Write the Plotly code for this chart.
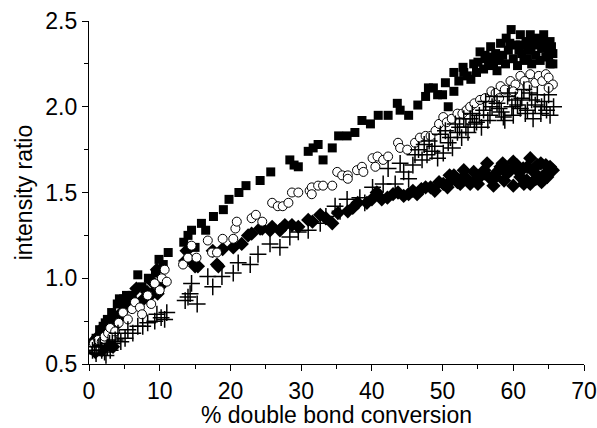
import plotly.graph_objects as go

# Filled squares
sq_x = [0.2, 0.5, 0.8, 1.0, 1.3, 1.5, 1.8, 2.0, 2.3, 2.6, 2.9, 3.2, 3.5, 4.0, 4.3, 4.9, 5.3, 6.1, 6.9, 7.5,
        8.4, 9.4, 9.9, 10.5, 11.2, 13.4, 14.0, 14.5, 15.0, 15.9, 16.5, 17.6, 19.0, 19.8, 21.2, 22.2, 24.2, 25.7,
        28.4, 29.0, 29.6, 31.0, 31.7, 32.4, 33.1, 34.4, 35.3, 36.5, 37.6, 38.6, 39.8, 40.9, 42.3, 43.6, 44.0,
        45.2, 46.5, 47.6, 48.0, 48.7, 49.3, 50.0, 50.4, 50.8, 51.6, 51.6, 52.3, 52.9, 53.5, 54.4, 54.8, 55.3,
        55.8, 56.2, 56.8, 57.2, 57.7, 58.2, 58.5, 58.9, 59.3, 59.7, 60.0, 60.3, 60.6, 61.0, 61.2, 61.5, 61.8,
        62.1, 62.4, 62.6, 62.9, 63.2, 63.5, 63.8, 64.0, 64.3, 64.6, 64.9, 65.2, 65.6, 65.6, 65.4, 55.0, 56.5,
        57.5, 59.0, 60.8, 62.0, 63.0, 64.5, 65.0, 53.0, 54.0, 56.0, 57.0, 58.0, 59.5, 61.0, 62.5, 63.8, 65.2,
        1.1, 1.6, 2.4, 2.8, 3.4]
sq_y = [0.60, 0.62, 0.58, 0.65, 0.63, 0.70, 0.68, 0.72, 0.74, 0.76, 0.75, 0.80, 0.78, 0.85, 0.88, 0.88, 0.90, 0.90, 1.02, 0.95,
        1.00, 1.03, 1.11, 1.08, 1.15, 1.21, 1.25, 1.28, 1.18, 1.32, 1.28, 1.36, 1.40, 1.46, 1.50, 1.54, 1.57, 1.62,
        1.69, 1.66, 1.65, 1.74, 1.76, 1.78, 1.69, 1.76, 1.83, 1.83, 1.85, 1.92, 1.90, 1.95, 1.95, 2.02, 1.98,
        1.95, 2.01, 2.06, 2.11, 2.11, 2.07, 2.07, 2.14, 2.00, 2.09, 2.20, 2.15, 2.23, 2.18, 2.25, 2.20, 2.32,
        2.22, 2.28, 2.35, 2.25, 2.21, 2.37, 2.30, 2.25, 2.33, 2.45, 2.28, 2.36, 2.24, 2.42, 2.31, 2.27, 2.38,
        2.33, 2.42, 2.25, 2.36, 2.30, 2.40, 2.27, 2.34, 2.42, 2.29, 2.37, 2.25, 2.31, 2.25, 2.35, 2.26, 2.24,
        2.31, 2.40, 2.33, 2.28, 2.39, 2.35, 2.30, 2.20, 2.16, 2.30, 2.29, 2.27, 2.37, 2.36, 2.33, 2.38, 2.38,
        0.60, 0.66, 0.70, 0.73, 0.74]

# Open circles
ci_x = [0.3, 0.7, 1.0, 1.3, 1.8, 2.2, 2.7, 3.0, 3.3, 3.7, 4.2, 4.8, 5.5, 6.1, 6.5, 7.2, 7.5, 8.3, 8.8, 9.3,
        10.0, 10.3, 10.7, 11.0, 13.3, 14.0, 14.5, 15.2, 16.8, 17.4, 18.1, 18.9, 20.4, 20.7, 20.9, 23.0, 23.6,
        24.5, 25.9, 26.7, 27.4, 28.2, 28.7, 29.6, 31.2, 31.5, 31.5, 32.4, 33.1, 34.4, 35.1, 35.8, 36.6, 36.6,
        37.9, 38.6, 38.8, 40.1, 40.5, 40.8, 41.6, 42.3, 43.7, 44.0, 45.0, 46.1, 46.8, 47.6, 48.3, 49.0, 49.5,
        50.1, 50.6, 51.3, 52.1, 52.8, 53.4, 53.9, 54.5, 55.3, 56.0, 56.9, 57.5, 58.2, 58.8, 59.6, 60.3, 61.0,
        61.6, 62.4, 63.1, 63.6, 64.1, 64.6, 65.0, 65.6, 65.0, 62.0, 60.0, 58.0]
ci_y = [0.60, 0.62, 0.59, 0.64, 0.63, 0.66, 0.68, 0.71, 0.66, 0.69, 0.74, 0.80, 0.76, 0.82, 0.86, 0.83, 0.79, 0.90, 0.85, 0.97,
        0.93, 1.00, 1.05, 0.98, 1.08, 1.12, 1.19, 1.12, 1.22, 1.15, 1.15, 1.23, 1.23, 1.29, 1.33, 1.35, 1.37,
        1.33, 1.44, 1.42, 1.42, 1.44, 1.50, 1.50, 1.51, 1.53, 1.49, 1.54, 1.54, 1.54, 1.62, 1.60, 1.60, 1.58,
        1.63, 1.65, 1.62, 1.70, 1.65, 1.71, 1.69, 1.71, 1.79, 1.76, 1.75, 1.79, 1.82, 1.83, 1.83, 1.86, 1.90,
        1.94, 1.91, 1.93, 1.96, 1.96, 1.98, 2.00, 2.02, 2.04, 2.05, 2.09, 2.08, 2.12, 2.10, 2.15, 2.13, 2.18,
        2.15, 2.19, 2.14, 2.18, 2.15, 2.19, 2.17, 2.13, 2.11, 2.12, 2.09, 2.05]

# Crosses
cr_x = [0.5, 1.0, 1.4, 1.8, 2.2, 2.6, 3.0, 3.3, 3.7, 4.1, 4.5, 5.1, 5.5, 6.2, 6.9, 7.6, 8.3, 9.3, 9.6, 10.2,
        10.7, 11.0, 13.6, 14.0, 14.3, 14.5, 15.3, 16.8, 17.5, 18.8, 20.4, 21.1, 22.8, 23.9, 25.6, 27.0, 28.4,
        29.6, 31.0, 32.7, 33.5, 34.8, 35.5, 36.5, 38.3, 39.0, 40.1, 41.6, 42.3, 43.3, 44.0, 44.5, 45.2, 46.1,
        47.1, 47.8, 48.5, 49.3, 50.1, 50.8, 51.4, 52.1, 52.7, 53.3, 53.9, 54.5, 55.2, 55.8, 56.4, 57.0, 57.7,
        58.3, 59.2, 59.8, 60.6, 61.2, 61.7, 62.3, 63.1, 63.9, 64.4, 65.0, 65.2, 65.7, 62.8, 60.0, 58.8,
        45.8, 46.6, 47.4, 48.1, 48.9, 49.7, 50.4, 51.1, 51.8, 52.4, 53.0, 53.6, 54.2, 54.8, 55.5, 56.1,
        56.7, 57.3, 58.0, 58.6, 59.4, 60.3, 61.0, 61.5, 62.0, 62.6, 63.4, 64.0, 64.7, 0.8, 1.6, 2.4, 2.9]
cr_y = [0.58, 0.56, 0.60, 0.58, 0.57, 0.60, 0.58, 0.62, 0.64, 0.68, 0.63, 0.65, 0.70, 0.68, 0.72, 0.72, 0.74, 0.75, 0.79, 0.77,
        0.76, 0.80, 0.87, 0.89, 0.91, 0.97, 0.85, 1.01, 0.95, 1.01, 1.03, 1.09, 1.08, 1.14, 1.20, 1.18, 1.24,
        1.27, 1.28, 1.32, 1.36, 1.42, 1.39, 1.46, 1.47, 1.44, 1.53, 1.55, 1.64, 1.55, 1.67, 1.62, 1.58, 1.72,
        1.69, 1.72, 1.74, 1.70, 1.73, 1.79, 1.76, 1.85, 1.82, 1.88, 1.93, 1.90, 1.95, 1.98, 1.92, 2.00, 2.02,
        1.97, 2.06, 2.00, 2.01, 2.05, 1.96, 2.08, 2.01, 1.96, 2.03, 2.07, 1.95, 2.00, 1.93, 1.95, 1.92,
        1.66, 1.75, 1.78, 1.80, 1.77, 1.84, 1.86, 1.82, 1.90, 1.88, 1.93, 1.85, 1.96, 1.91, 1.88, 2.03,
        1.95, 2.06, 1.99, 1.94, 2.08, 2.04, 1.99, 2.10, 1.98, 2.04, 2.07, 2.00, 1.98, 0.60, 0.61, 0.55, 0.62]

# Filled diamonds
di_x = [0.3, 0.6, 1.0, 1.3, 1.6, 2.0, 2.2, 2.6, 3.2, 3.6, 4.1, 4.6, 5.2, 6.0, 6.7, 7.5, 8.2, 8.9, 8.9, 9.6,
        9.7, 10.0, 13.6, 13.8, 14.5, 15.0, 15.4, 17.5, 18.1, 18.3, 18.9, 20.4, 21.6, 22.5, 23.0, 24.2, 24.5,
        25.6, 25.9, 27.0, 27.7, 28.7, 29.6, 31.0, 31.6, 32.7, 33.5, 34.4, 35.2, 36.6, 37.3, 38.0, 39.3, 40.0,
        40.7, 41.4, 42.2, 43.0, 43.7, 44.5, 45.2, 45.8, 46.4, 47.0, 47.6, 48.3, 48.9, 49.5, 50.1, 50.7, 51.2,
        51.6, 52.1, 52.5, 52.9, 53.4, 53.9, 54.4, 55.0, 55.5, 55.9, 56.3, 56.8, 57.2, 57.7, 58.2, 58.7, 59.1,
        59.6, 60.0, 60.5, 61.0, 61.4, 61.9, 62.4, 62.4, 62.9, 63.4, 63.9, 64.3, 64.8, 65.2, 65.6, 65.0, 64.0,
        61.5, 58.5, 60.0, 0.9, 1.8, 2.7, 3.4, 51.0, 53.0, 54.8, 56.0, 57.5, 59.0, 60.8, 62.0, 63.2, 64.6]
di_y = [0.60, 0.63, 0.61, 0.66, 0.64, 0.70, 0.72, 0.69, 0.74, 0.72, 0.76, 0.80, 0.84, 0.88, 0.94, 0.87, 0.92, 0.91, 0.98, 1.05,
        0.91, 0.95, 1.10, 1.16, 1.10, 1.07, 1.07, 1.16, 1.08, 1.07, 1.17, 1.18, 1.20, 1.25, 1.26, 1.29, 1.29,
        1.28, 1.30, 1.28, 1.31, 1.31, 1.30, 1.34, 1.33, 1.37, 1.35, 1.32, 1.38, 1.39, 1.41, 1.44, 1.44, 1.46,
        1.50, 1.46, 1.47, 1.49, 1.50, 1.48, 1.49, 1.51, 1.49, 1.52, 1.53, 1.53, 1.51, 1.56, 1.55, 1.53, 1.57,
        1.60, 1.56, 1.55, 1.59, 1.58, 1.55, 1.62, 1.55, 1.60, 1.63, 1.67, 1.58, 1.54, 1.62, 1.65, 1.57, 1.61,
        1.63, 1.54, 1.66, 1.59, 1.64, 1.57, 1.70, 1.55, 1.62, 1.66, 1.67, 1.60, 1.59, 1.65, 1.63, 1.62, 1.56,
        1.55, 1.67, 1.68, 0.57, 0.58, 0.62, 0.60, 1.60, 1.63, 1.58, 1.61, 1.59, 1.64, 1.62, 1.65, 1.58, 1.66]

x_ticks = [0, 10, 20, 30, 40, 50, 60, 70]
y_ticks = [0.5, 1.0, 1.5, 2.0, 2.5]

fig = go.Figure()
fig.add_trace(go.Scatter(x=sq_x, y=sq_y, mode="markers",
                         marker=dict(symbol="square", size=9, color="black", line=dict(width=0))))
fig.add_trace(go.Scatter(x=di_x, y=di_y, mode="markers",
                         marker=dict(symbol="diamond", size=11, color="black", line=dict(width=0))))
fig.add_trace(go.Scatter(x=ci_x, y=ci_y, mode="markers",
                         marker=dict(symbol="circle", size=9, color="white",
                                     line=dict(width=1, color="black"))))
fig.add_trace(go.Scatter(x=cr_x, y=cr_y, mode="markers",
                         marker=dict(symbol="cross-thin", size=12, color="black",
                                     line=dict(width=1.5, color="black"))))

font = "Liberation Sans, Arial, sans-serif"
fig.update_layout(
    width=597, height=428,
    margin=dict(l=89, r=13, t=21, b=64),
    plot_bgcolor="white", paper_bgcolor="white",
    showlegend=False,
    font=dict(family=font, color="black"),
    xaxis=dict(range=[0, 70], tickvals=x_ticks, ticktext=[str(v) for v in x_ticks],
               automargin=False,
               showgrid=False, zeroline=False, showline=True, linecolor="black", linewidth=1.3,
               ticks="outside", ticklen=6, tickwidth=1.3, tickcolor="black",
               tickfont=dict(size=23),
               minor=dict(ticks="outside", ticklen=4, tickwidth=1.3, tickcolor="black", dtick=5, showgrid=False),
               title=dict(text="% double bond conversion", font=dict(size=23), standoff=6)),
    yaxis=dict(range=[0.5, 2.5], tickvals=y_ticks, ticktext=["%.1f" % v for v in y_ticks],
               automargin=False,
               showgrid=False, zeroline=False, showline=True, linecolor="black", linewidth=1.3,
               ticks="outside", ticklen=6, tickwidth=1.3, tickcolor="black",
               tickfont=dict(size=23),
               minor=dict(ticks="outside", ticklen=4, tickwidth=1.3, tickcolor="black", dtick=0.25, showgrid=False),
               title=dict(text="intensity ratio", font=dict(size=23), standoff=6)),
)
fig.write_html("out.html")
